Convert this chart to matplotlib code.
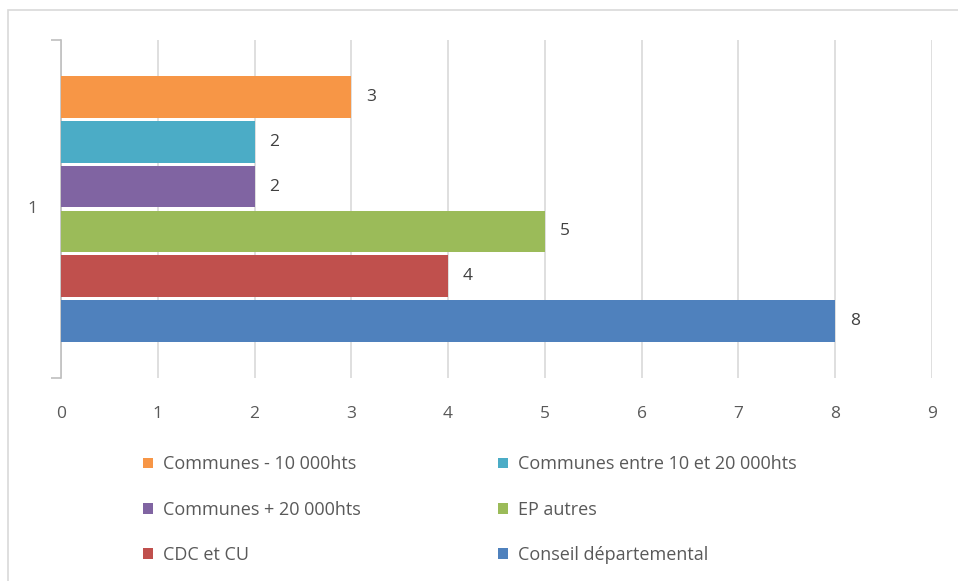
import matplotlib.pyplot as plt
from matplotlib.patches import Rectangle

category = "1"
series = ["Conseil départemental", "CDC et CU", "EP autres",
          "Communes + 20 000hts", "Communes entre 10 et 20 000hts", "Communes - 10 000hts"]
values = [8, 4, 5, 2, 2, 3]
colors = ["#4F81BD", "#C0504D", "#9BBB59", "#8064A2", "#4BACC6", "#F79646"]
xticks = list(range(0, 10))

plt.rcParams['font.family'] = ['Open Sans', 'DejaVu Sans']
txt = "#595959"

fig = plt.figure(figsize=(9.58, 5.81), dpi=100)
fig.patches.append(Rectangle((8 / 958, -0.1), 1.2, 1 - 10 / 581 + 0.1, transform=fig.transFigure,
                             fill=False, edgecolor="#d9d9d9", linewidth=1.2))
ax = fig.add_axes([61 / 958, 1 - 378 / 581, (932 - 61) / 958, (378 - 40) / 581])

step = 0.133
h = 0.124
bars = []
for i, (name, v, c) in enumerate(zip(series, values, colors)):
    y = (i - 2.5) * step
    b = ax.barh(y, v, height=h, color=c, label=name, zorder=3)
    bars.append(b)
    ax.text(v + 0.15, y, str(v), va="center", ha="left", fontsize=12.5, color="#404040")

ax.set_xlim(0, 9)
ax.set_ylim(-0.5, 0.5)
ax.set_xticks(xticks)
ax.set_xticklabels([str(t) for t in xticks], fontsize=12.5, color=txt)
ax.tick_params(axis="x", length=0, pad=20)
ax.set_yticks([-0.5, 0.5])
ax.set_yticklabels(["", ""])
ax.tick_params(axis="y", length=7, color="#bfbfbf", width=1.2)
ax.text(-0.3, 0.0, category, ha="center", va="center", fontsize=12.5, color=txt,
        transform=ax.transData)
ax.grid(axis="x", color="#d9d9d9", linewidth=1.2, zorder=0)
for s in ["top", "right", "bottom"]:
    ax.spines[s].set_visible(False)
ax.spines["left"].set_color("#bfbfbf")
ax.spines["left"].set_linewidth(1.2)

# legend in Excel order, two columns placed separately
left_col = [5, 3, 1]
right_col = [4, 2, 0]
for col, x0 in [(left_col, 138), (right_col, 493)]:
    fig.legend([bars[i] for i in col], [series[i] for i in col], loc="upper left",
               bbox_to_anchor=(x0 / 958, 1 - 450 / 581), frameon=False, fontsize=13,
               labelcolor=txt, handlelength=0.55, handleheight=0.55,
               handletextpad=0.55, labelspacing=1.52, borderaxespad=0, borderpad=0.3)

fig.savefig("out.png", dpi=100)
